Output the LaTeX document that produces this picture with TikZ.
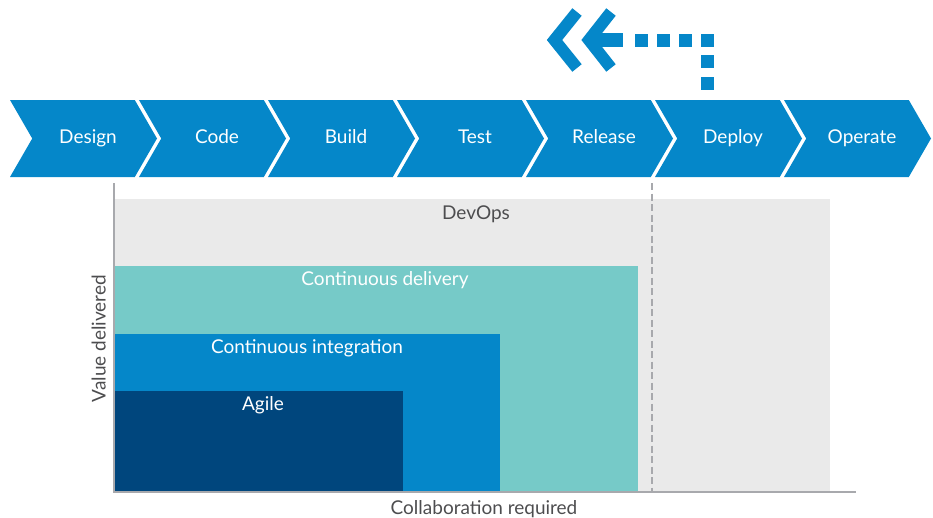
\documentclass[tikz,border=0pt]{standalone}
\usepackage{fontspec}
\setmainfont{Lato}
\usetikzlibrary{shapes.symbols}
\definecolor{dellblue}{HTML}{0587C9}
\definecolor{cdteal}{HTML}{76CAC8}
\definecolor{agilenavy}{HTML}{00467D}
\definecolor{devgray}{HTML}{EAEAEA}
\definecolor{axisgray}{HTML}{A8A9AD}
\definecolor{labelgray}{HTML}{4D4D4F}
\tikzstyle{stage}=[signal, signal from=west, signal to=east, signal pointer angle=120, fill=dellblue, text=white, minimum width=147pt, minimum height=77pt, inner sep=0pt, text height=13.5pt, text depth=4.5pt, font=\fontsize{19}{22}\selectfont, execute at begin node=\hspace*{9pt}]
\tikzstyle{boxlabel}=[text=white, inner sep=0pt, text height=13.5pt, text depth=4.5pt, font=\fontsize{19}{22}\selectfont]
\tikzstyle{axislabel}=[text=labelgray, inner sep=0pt, text height=13.5pt, text depth=4.5pt, font=\fontsize{19}{22}\selectfont]

\begin{document}
\begin{tikzpicture}[x=1pt,y=-1pt]
\useasboundingbox (0,0) rectangle (933,517);

% process stages
\node (design) at (83.5,138.5) [stage] {Design};
\node (code) at (212.5,138.5) [stage] {Code};
\node (build) at (341.5,138.5) [stage] {Build};
\node (test) at (470.5,138.5) [stage] {Test};
\node (release) at (599.5,138.5) [stage] {Release};
\node (deploy) at (728.5,138.5) [stage] {Deploy};
\node (operate) at (857.5,138.5) [stage] {Operate};

% levels
\fill[devgray] (115,199) rectangle (830,491);
\fill[cdteal] (115,266) rectangle (638,491);
\fill[dellblue] (115,334) rectangle (500,491);
\fill[agilenavy] (115,391) rectangle (403,491);
\node (devops) at (476,215) [boxlabel, text=labelgray] {DevOps};
\node (cdel) at (385,280.5) [boxlabel] {Continuous delivery};
\node (cint) at (307,349) [boxlabel] {Continuous integration};
\node (agile) at (263,406) [boxlabel] {Agile};

% axes
\coordinate (o) at (114,492);
\coordinate (ytop) at (114,183);
\coordinate (xend) at (856,492);
\draw[axisgray, line width=2.5pt] (ytop) -- (o) -- (xend);
\coordinate (dtop) at (652,183);
\coordinate (dbot) at (652,492);
\draw[axisgray, line width=2.5pt, dash pattern=on 7pt off 3.5pt] (dtop) -- (dbot);
\node (value) at (101,338.5) [axislabel, rotate=90] {Value delivered};
\node (collab) at (484,510) [axislabel] {Collaboration required};

% feedback arrow
\foreach \x in {641,663,685,707} \fill[dellblue] (\x-6.5,33.5) rectangle (\x+6.5,46.5);
\foreach \y in {61.5,83.5} \fill[dellblue] (700.5,\y-6.5) rectangle (713.5,\y+6.5);
\draw[dellblue, line width=14pt] (597,40) -- (623,40);
\draw[dellblue, line width=12pt] (577,12) -- (554.5,40) -- (577,68);
\draw[dellblue, line width=12pt] (611,12) -- (589,40) -- (611,68);
\end{tikzpicture}
\end{document}
